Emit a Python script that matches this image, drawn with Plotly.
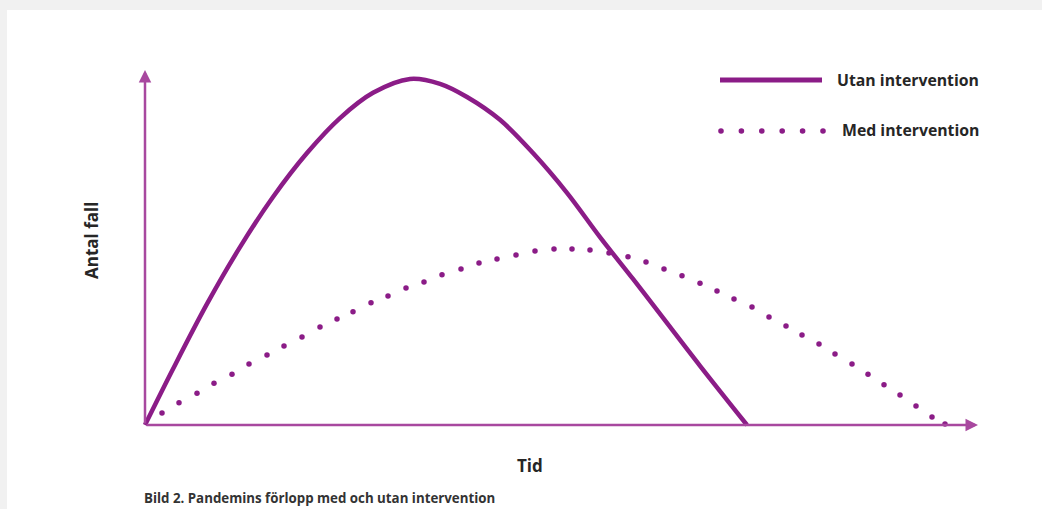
import plotly.graph_objects as go

# ---- data (time units, cases with peak = 100) ----
utan_t = [0, 0.28, 0.62, 0.95, 1.28, 1.62, 1.95, 2.28, 2.65, 2.95, 3.22, 3.55, 3.88, 4.22, 4.55, 4.88, 5.15, 5.55, 6.02]
utan_y = [0, 16.2, 35.0, 51.4, 65.9, 78.6, 88.7, 96.0, 100, 98.6, 94.8, 88.2, 78.6, 67.1, 54.3, 42.2, 32.1, 17.1, 0]

med_t = [0.17, 0.34, 0.52, 0.69, 0.87, 1.04, 1.22, 1.39, 1.57, 1.75, 1.92, 2.08, 2.26, 2.43, 2.61, 2.79,
         2.97, 3.16, 3.34, 3.52, 3.71, 3.90, 4.09, 4.27, 4.45, 4.64, 4.83, 5.01, 5.19, 5.37, 5.55, 5.72,
         5.89, 6.07, 6.24, 6.41, 6.57, 6.74, 6.90, 7.07, 7.23, 7.39, 7.55, 7.71, 7.87, 8.00]
med_y = [3.5, 6.4, 9.2, 12.1, 14.7, 17.6, 20.2, 22.8, 25.4, 28.3, 30.6, 32.7, 35.3, 37.3, 39.6, 41.3,
         43.4, 45.1, 46.8, 48.0, 49.1, 50.3, 50.9, 50.9, 50.6, 49.7, 48.6, 47.1, 45.1, 43.1, 41.0, 38.7,
         36.4, 34.1, 31.2, 28.6, 26.0, 23.4, 20.5, 17.6, 14.7, 11.6, 8.7, 5.5, 2.3, 0.3]

series_names = ["Utan intervention", "Med intervention"]
x_title = "Tid"
y_title = "Antal fall"
caption = "Bild 2. Pandemins förlopp med och utan intervention"

# ---- style ----
W, H = 1042, 509
PURPLE = "#8B1C87"
AXIS = "#A8489F"
TEXT = "#262626"
FONT = "Open Sans"


def px(xp):
    return xp / W


def py(yp):
    return 1 - yp / H


fig = go.Figure()

fig.add_trace(go.Scatter(
    x=utan_t, y=utan_y, mode="lines", name=series_names[0],
    line=dict(color=PURPLE, width=4.5, shape="spline", smoothing=1.0),
    showlegend=False, hoverinfo="skip"))

fig.add_trace(go.Scatter(
    x=med_t, y=med_y, mode="markers", name=series_names[1],
    marker=dict(color=PURPLE, size=5.5, line=dict(width=0)),
    showlegend=False, hoverinfo="skip"))

shapes = [
    # white card on light grey page
    dict(type="rect", xref="paper", yref="paper", x0=px(7), x1=1.0, y0=0, y1=py(10),
         fillcolor="white", line=dict(width=0), layer="below"),
    # legend: solid sample
    dict(type="line", xref="paper", yref="paper", x0=px(720), x1=px(822), y0=py(80), y1=py(80),
         line=dict(color=PURPLE, width=5)),
]
for i in range(6):
    cx = px(721 + i * 20.4)
    shapes.append(dict(type="circle", xref="paper", yref="paper", xsizemode="pixel", ysizemode="pixel",
                       xanchor=cx, yanchor=py(131), x0=-2.8, x1=2.8, y0=-2.8, y1=2.8,
                       fillcolor=PURPLE, line=dict(width=0)))

annotations = [
    # axis arrows
    dict(x=8.33, y=0, ax=0, ay=0, xref="x", yref="y", axref="x", ayref="y", text="",
         showarrow=True, arrowhead=2, arrowsize=1.0, arrowwidth=2.5, arrowcolor=AXIS),
    dict(x=0, y=102.6, ax=0, ay=0, xref="x", yref="y", axref="x", ayref="y", text="",
         showarrow=True, arrowhead=2, arrowsize=1.0, arrowwidth=2.5, arrowcolor=AXIS),
    # axis titles
    dict(x=px(530), y=py(465), xref="paper", yref="paper", text=x_title, showarrow=False,
         font=dict(family=FONT, size=17, color=TEXT, weight=700), xanchor="center", yanchor="middle"),
    dict(x=px(91), y=py(241), xref="paper", yref="paper", text=y_title, showarrow=False, textangle=-90,
         font=dict(family=FONT, size=17, color=TEXT, weight=700), xanchor="center", yanchor="middle"),
    # legend texts
    dict(x=px(835), y=py(80), xref="paper", yref="paper", text=series_names[0], showarrow=False,
         font=dict(family=FONT, size=15.8, color=TEXT, weight=700), xanchor="left", yanchor="middle"),
    dict(x=px(840), y=py(130), xref="paper", yref="paper", text=series_names[1], showarrow=False,
         font=dict(family=FONT, size=15.8, color=TEXT, weight=700), xanchor="left", yanchor="middle"),
    # caption
    dict(x=px(143), y=py(498), xref="paper", yref="paper", text=caption, showarrow=False,
         font=dict(family=FONT, size=13.3, color="#333333", weight=700), xanchor="left", yanchor="middle",
         borderpad=0),
]

fig.update_layout(
    width=W, height=H,
    margin=dict(l=0, r=0, t=0, b=0),
    paper_bgcolor="#f1f1f1", plot_bgcolor="#f1f1f1",
    xaxis=dict(range=[-1.45, (W - 145) / 100], visible=False, fixedrange=True),
    yaxis=dict(range=[(425 - H) / 3.46, 425 / 3.46], visible=False, fixedrange=True),
    shapes=shapes, annotations=annotations,
    showlegend=False,
)

fig.write_html(
    "out.html",
    config={"displayModeBar": False},
    post_script="document.body.style.margin='0';document.body.style.overflow='hidden';",
)
